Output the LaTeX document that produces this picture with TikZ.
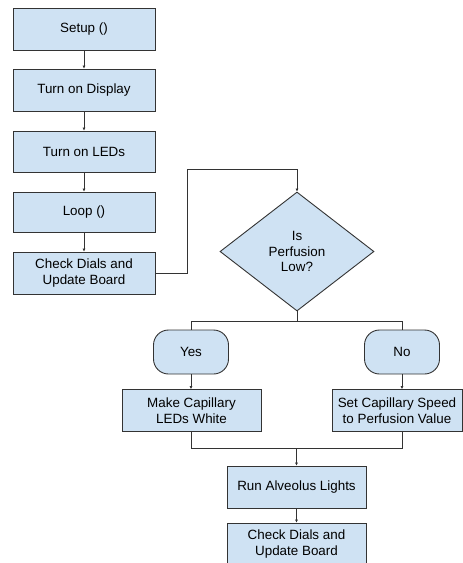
\documentclass[tikz,border=0pt]{standalone}
\usepackage{fontspec}
\setmainfont{Liberation Sans}
\usetikzlibrary{shapes.geometric,arrows.meta}
\definecolor{boxfill}{HTML}{CFE2F3}
\definecolor{edge}{HTML}{333333}
\tikzset{
  x=1pt, y=-1pt,
  box/.style={draw=edge, fill=boxfill, line width=0.9pt, minimum width=140pt,
    minimum height=42pt, inner sep=1pt, align=center, font=\fontsize{13.4}{15.5}\selectfont},
  decision/.style={draw=edge, fill=boxfill, line width=0.9pt, shape=diamond,
    minimum width=154pt, minimum height=119pt, inner sep=0pt, align=center,
    font=\fontsize{13.4}{15.5}\selectfont},
  terminal/.style={draw=edge, fill=boxfill, line width=0.9pt, rounded corners=15pt,
    minimum width=75pt, minimum height=44pt, inner sep=1pt, align=center,
    font=\fontsize{13.4}{15.5}\selectfont},
  link/.style={draw=edge, line width=0.8pt},
  flow/.style={link, -{Latex[length=3pt,width=3pt]}}
}
\begin{document}
\begin{tikzpicture}
\useasboundingbox (0,0) rectangle (463,563);
\clip (0,0) rectangle (463,563);

% left column
\node[box, minimum width=142pt] (setup)   at (84,29)   {Setup ()};
\node[box, minimum width=142pt] (display) at (84,90)   {Turn on Display};
\node[box, minimum width=142pt, minimum height=41pt] (leds) at (84,151.5) {Turn on LEDs};
\node[box, minimum width=142pt, minimum height=40pt] (loop) at (84,212) {Loop ()};
\node[box, minimum width=142pt] (check1)  at (84,273)  {Check Dials and\\Update Board};

% decision
\node[decision] (dia) at (297,251.5) {Is\\Perfusion\\Low?};

% branches
\node[terminal] (yes) at (191,352) {Yes};
\node[terminal] (no)  at (402,352) {No};
\node[box, minimum width=139pt] (make) at (191.5,410.5) {Make Capillary\\LEDs White};
\node[box, minimum width=130pt] (set)  at (397,410.5)   {Set Capillary Speed\\to Perfusion Value};

% tail
\node[box, minimum width=139pt] (run)    at (296.5,487) {Run Alveolus Lights};
\node[box, minimum width=139pt] (check2) at (296.5,544) {Check Dials and\\Update Board};

% straight arrows
\draw[flow] (setup) -- (display);
\draw[flow] (display) -- (leds);
\draw[flow] (leds) -- (loop);
\draw[flow] (loop) -- (check1);

% loop-back to the decision
\coordinate (up) at (187,169);
\draw[flow] (check1.east) -| (up) -| (dia.north);

% split below decision
\coordinate (split) at (297,321);
\draw[link] (dia.south) -- (split);
\draw[link] (split) -| (yes.north);
\draw[link] (split) -| (no.north);
\draw[flow] (yes.south) -- (make.north -| yes.south);
\draw[flow] (no.south) -- (set.north -| no.south);

% merge
\coordinate (mergeL) at (191,448);
\coordinate (mergeR) at (402,448);
\coordinate (merge)  at (296.5,448);
\draw[link] (make.south -| mergeL) -- (mergeL) -- (mergeR) -- (set.south -| mergeR);
\draw[flow] (merge) -- (run.north);
\draw[flow] (run) -- (check2);
\end{tikzpicture}
\end{document}
